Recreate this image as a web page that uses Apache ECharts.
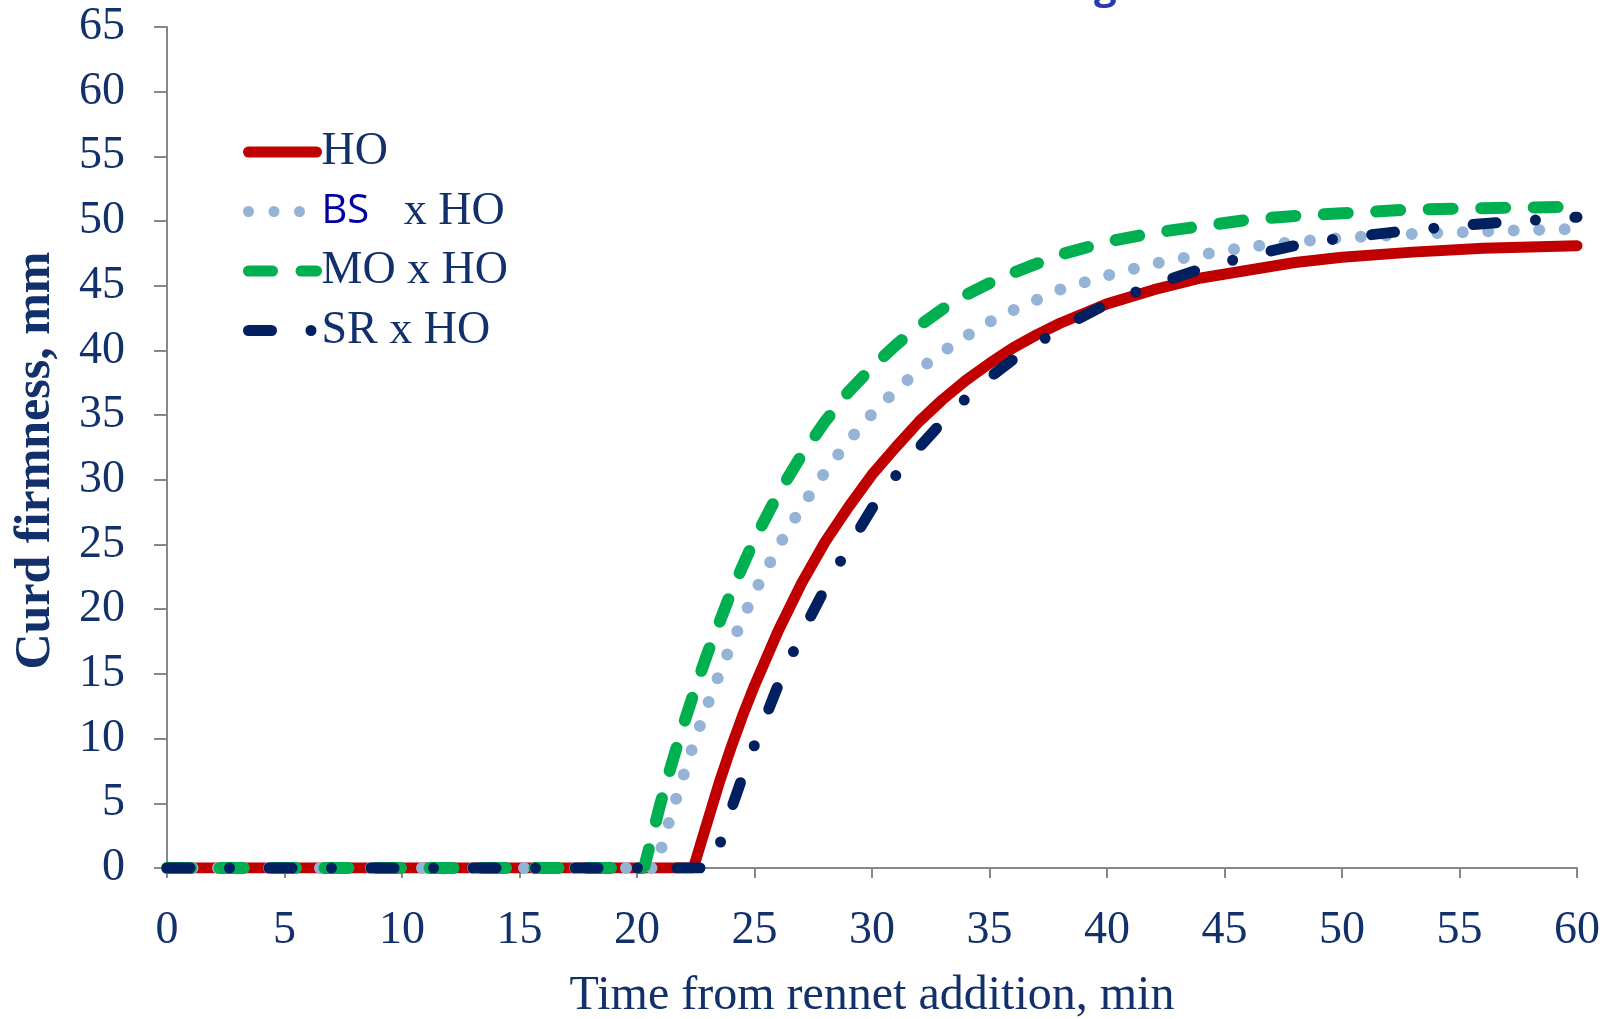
<!DOCTYPE html>
<html>
<head>
<meta charset="utf-8">
<script src="https://cdn.jsdelivr.net/npm/echarts@6/dist/echarts.min.js"></script>
<style>
  html, body { margin: 0; padding: 0; background: #fff; }
  #main { width: 1606px; height: 1019px; }
</style>
</head>
<body>
<div id="main"></div>
<script>
// curd firmness (mm), time in minutes
var hoTime = [0, 22.4, 23, 23.5, 24, 24.5, 25, 26, 27, 28, 29, 30, 31, 32, 33, 34, 35, 36, 37, 38, 40, 42, 44, 46, 48, 50, 53, 56, 60];
var hoValue = [0, 0, 3.6, 6.6, 9.3, 11.8, 14.1, 18.3, 22.0, 25.2, 27.9, 30.4, 32.5, 34.5, 36.2, 37.7, 39.0, 40.2, 41.2, 42.1, 43.6, 44.7, 45.6, 46.2, 46.8, 47.2, 47.6, 47.9, 48.1];

var bsTime = [0, 20.8, 21, 21.5, 22, 22.5, 23, 23.5, 24, 25, 26, 27, 28, 29, 30, 31, 32, 33, 34, 35, 36, 38, 40, 42, 44, 46, 48, 50, 53, 56, 60];
var bsValue = [0, 0, 1.3, 4.4, 7.3, 10.1, 12.6, 15.0, 17.2, 21.3, 24.8, 27.9, 30.6, 33.0, 35.1, 36.9, 38.5, 39.9, 41.1, 42.2, 43.1, 44.7, 45.8, 46.7, 47.4, 48.0, 48.4, 48.7, 49.0, 49.2, 49.4];

var moTime = [0, 20.3, 21, 21.5, 22, 22.5, 23, 24, 25, 26, 27, 28, 29, 30, 31, 32, 33, 34, 35, 36, 38, 40, 42, 44, 46, 48, 50, 53, 56, 60];
var moValue = [0, 0, 5.0, 8.2, 11.2, 14.0, 16.6, 21.3, 25.4, 28.9, 31.9, 34.5, 36.8, 38.7, 40.4, 41.9, 43.2, 44.3, 45.2, 46.0, 47.4, 48.4, 49.1, 49.6, 50.1, 50.4, 50.6, 50.9, 51.0, 51.1];

var srTime = [0, 23.2, 23.5, 24, 24.5, 25, 26, 27, 28, 29, 30, 31, 32, 33, 34, 35, 36, 38, 40, 42, 44, 46, 48, 50, 53, 56, 60];
var srValue = [0, 0, 1.7, 4.5, 7.1, 9.5, 14.1, 18.1, 21.6, 24.8, 27.8, 30.3, 32.5, 34.5, 36.3, 37.9, 39.3, 41.7, 43.6, 45.1, 46.3, 47.3, 48.1, 48.7, 49.3, 49.8, 50.3];

var seriesNames = ['HO', 'BS x HO', 'MO x HO', 'SR x HO'];
var seriesColors = ['#c00000', '#95b3d7', '#00b050', '#002060'];
var seriesDash = ['solid', [0, 25.5], [24, 28.5], [23, 39.5, 0, 39.5]];

function pairs(xs, ys) {
    return xs.map(function (x, i) { return [x, ys[i]]; });
}

var navy = '#12306a';
var serif = 'Liberation Serif';

var myChart = echarts.init(document.getElementById('main'));

var option = {
    animation: false,
    backgroundColor: '#fff',
    graphic: [{
        type: 'text',
        left: 1094,
        top: -32,
        style: { text: 'g', fontSize: 40, fontWeight: 'bold', fontFamily: 'Open Sans', fill: '#2a3ab0' }
    }],
    grid: { left: 167, right: 29, top: 27, bottom: 151, outerBoundsMode: 'none' },
    legend: {
        orient: 'vertical',
        left: 238,
        top: 124,
        itemWidth: 68,
        itemHeight: 14,
        itemGap: 13.5,
        data: seriesNames.map(function (n, i) {
            return {
                name: n,
                itemStyle: { opacity: 0 },
                lineStyle: { color: seriesColors[i], width: 11, type: seriesDash[i], cap: 'round' }
            };
        }),
        formatter: function (name) {
            if (name === 'BS x HO') return '{bs|BS}{t|   x HO}';
            return '{t|' + name + '}';
        },
        textStyle: {
            rich: {
                t: { fontFamily: serif, fontSize: 46, color: navy, lineHeight: 50 },
                bs: { fontFamily: 'Open Sans', fontSize: 40, color: '#0000a0', lineHeight: 50 }
            }
        }
    },
    xAxis: {
        type: 'value',
        min: 0,
        max: 60,
        interval: 5,
        name: 'Time from rennet addition, min',
        nameLocation: 'middle',
        nameGap: 104,
        nameTextStyle: { fontFamily: serif, fontSize: 48, color: navy },
        axisLine: { lineStyle: { color: '#888', width: 2 } },
        axisTick: { length: 10, lineStyle: { color: '#888', width: 2 } },
        axisLabel: { margin: 40, fontFamily: serif, fontSize: 46, color: navy },
        splitLine: { show: false }
    },
    yAxis: {
        type: 'value',
        min: 0,
        max: 65,
        interval: 5,
        name: 'Curd firmness, mm',
        nameLocation: 'middle',
        nameGap: 106,
        nameTextStyle: { fontFamily: serif, fontSize: 50, fontWeight: 'bold', color: navy, padding: [0, 26, 0, 0] },
        axisLine: { show: true, lineStyle: { color: '#888', width: 2 } },
        axisTick: { show: true, length: 13, lineStyle: { color: '#888', width: 2 } },
        axisLabel: { margin: 42, fontFamily: serif, fontSize: 46, color: navy },
        splitLine: { show: false }
    },
    series: [
        {
            name: 'HO',
            type: 'line',
            symbol: 'none',
            data: pairs(hoTime, hoValue),
            lineStyle: { color: seriesColors[0], width: 11, cap: 'round' },
            itemStyle: { color: seriesColors[0] }
        },
        {
            name: 'BS x HO',
            type: 'line',
            symbol: 'none',
            data: pairs(bsTime, bsValue),
            lineStyle: { color: seriesColors[1], width: 12, type: seriesDash[1], cap: 'round' },
            itemStyle: { color: seriesColors[1] }
        },
        {
            name: 'MO x HO',
            type: 'line',
            symbol: 'none',
            data: pairs(moTime, moValue),
            lineStyle: { color: seriesColors[2], width: 12, type: seriesDash[2], cap: 'round' },
            itemStyle: { color: seriesColors[2] }
        },
        {
            name: 'SR x HO',
            type: 'line',
            symbol: 'none',
            data: pairs(srTime, srValue),
            lineStyle: { color: seriesColors[3], width: 11, type: seriesDash[3], cap: 'round' },
            itemStyle: { color: seriesColors[3] }
        }
    ]
};

myChart.setOption(option);
</script>
</body>
</html>
